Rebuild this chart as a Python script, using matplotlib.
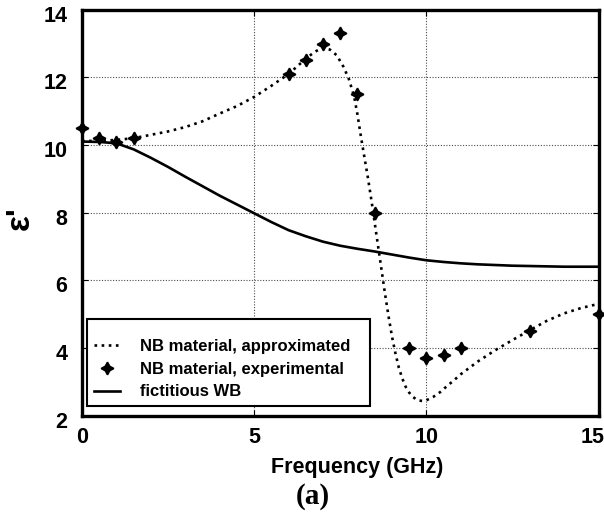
import matplotlib
matplotlib.use('Agg')
import matplotlib.pyplot as plt
from matplotlib.transforms import ScaledTranslation
from matplotlib.patches import Rectangle

plt.rcParams['font.family'] = ['Liberation Sans', 'DejaVu Sans']
plt.rcParams['font.weight'] = 'bold'

# NB material, approximated (dotted curve)
freq_approx = [0, 0.5, 1, 1.5, 2, 2.5, 3, 3.5, 4, 4.5, 5, 5.5, 6, 6.5, 6.75, 7.0, 7.2, 7.4,
               7.6, 7.75, 7.9, 8.0, 8.1, 8.2, 8.3, 8.4, 8.5, 8.6, 8.7, 8.8, 8.9, 9.0, 9.1,
               9.2, 9.3, 9.4, 9.5, 9.6, 9.7, 9.8, 9.9, 10.0, 10.2, 10.4, 10.6, 10.8, 11.0,
               11.5, 12.0, 12.5, 13.0, 13.5, 14.0, 14.5, 15.0]
eps_approx = [10.12, 10.12, 10.15, 10.2, 10.3, 10.4, 10.53, 10.7, 10.93, 11.15, 11.42, 11.75,
              12.1, 12.55, 12.75, 12.88, 12.82, 12.65, 12.3, 11.95, 11.45, 10.9, 10.25, 9.65,
              9.05, 8.4, 7.7, 7.0, 6.3, 5.6, 4.95, 4.35, 3.85, 3.42, 3.1, 2.85, 2.68, 2.56,
              2.48, 2.44, 2.43, 2.45, 2.55, 2.69, 2.87, 3.04, 3.22, 3.6, 3.93, 4.23, 4.52,
              4.8, 5.02, 5.18, 5.3]

# NB material, experimental (markers)
freq_exp = [0, 0.5, 1, 1.5, 6, 6.5, 7, 7.5, 8, 8.5, 9.5, 10, 10.5, 11, 13, 15]
eps_exp = [10.5, 10.2, 10.1, 10.2, 12.1, 12.5, 13.0, 13.3, 11.5, 8.0, 4.0, 3.7, 3.8, 4.0, 4.5, 5.0]

# fictitious WB (solid curve)
freq_wb = [0, 0.5, 1, 1.5, 2, 2.5, 3, 3.5, 4, 4.5, 5, 5.5, 6, 6.5, 7, 7.5, 8, 8.5, 9, 9.5,
           10, 10.5, 11, 11.5, 12, 12.5, 13, 13.5, 14, 14.5, 15]
eps_wb = [10.1, 10.09, 10.05, 9.87, 9.62, 9.35, 9.06, 8.78, 8.5, 8.24, 7.98, 7.72, 7.48, 7.3,
          7.14, 7.02, 6.93, 6.85, 6.76, 6.67, 6.59, 6.54, 6.5, 6.47, 6.45, 6.43, 6.42, 6.41,
          6.4, 6.4, 6.4]

x_ticks = [0, 5, 10, 15]
y_ticks = [2, 4, 6, 8, 10, 12, 14]

W, H = 604, 516
fig = plt.figure(figsize=(W / 100, H / 100), dpi=100)
ax = fig.add_axes([82 / W, (H - 415.5) / H, (598.5 - 82) / W, (415.5 - 9.7) / H])

ax.plot(freq_approx, eps_approx, color='black', lw=1.9, linestyle=(0, (1, 1.7)),
        label='NB material, approximated', zorder=3)
ax.plot(freq_exp, eps_exp, linestyle='none', marker=(4, 1, 0), markersize=9,
        markeredgewidth=1.2, color='black', label='NB material, experimental',
        clip_on=False, zorder=4)
ax.plot(freq_wb, eps_wb, color='black', lw=1.9, label='fictitious WB', zorder=3)

ax.set_xlim(0, 15)
ax.set_ylim(2, 14)
ax.set_xticks(x_ticks)
ax.set_yticks(y_ticks)
ax.set_xticklabels([str(v) for v in x_ticks], fontsize=15.5, fontweight='bold')
ax.set_yticklabels([str(v) for v in y_ticks], fontsize=15.5, fontweight='bold')
ax.tick_params(axis='both', direction='in', length=4, width=0.8,
               top=True, right=True)
ax.tick_params(axis='x', pad=8)
ax.tick_params(axis='y', pad=10.5)
for lab in ax.get_yticklabels():
    lab.set_transform(lab.get_transform() + ScaledTranslation(0, -4 / 100, fig.dpi_scale_trans))
xl = ax.get_xticklabels()
xl[-1].set_transform(xl[-1].get_transform() + ScaledTranslation(-6 / 100, 0, fig.dpi_scale_trans))

ax.grid(True, color='0.3', lw=0.8, linestyle=(0, (1, 1.5)))
for s in ax.spines.values():
    s.set_linewidth(2.4)

fig.text(357 / W, 1 - 467 / H, 'Frequency (GHz)', ha='center', va='center',
         fontsize=15.5, fontweight='bold')
fig.text(20 / W, 1 - 218 / H, "ε'", ha='center', va='center', rotation=90,
         fontsize=24, fontweight='bold')
fig.text(313 / W, 1 - 497 / H, '(a)', ha='center', va='center',
         fontsize=21, fontweight='bold', family=['Liberation Serif', 'DejaVu Serif'])

# legend frame box
fig.patches.append(Rectangle((87 / W, (H - 406) / H), (370 - 87) / W, (406 - 319) / H,
                             transform=fig.transFigure, facecolor='white',
                             edgecolor='black', lw=1.5, zorder=5))

leg = ax.legend(loc='lower left', bbox_to_anchor=(87 / W, (H - 406) / H),
                bbox_transform=fig.transFigure, frameon=False,
                prop={'weight': 'bold', 'size': 12}, handlelength=1.6,
                handletextpad=1.2, borderpad=0.4, labelspacing=0.46,
                borderaxespad=0)
leg.set_zorder(6)
leg.remove()
fig.legends.append(leg)
leg.set_figure(fig)

fig.savefig('out.png', dpi=100)
